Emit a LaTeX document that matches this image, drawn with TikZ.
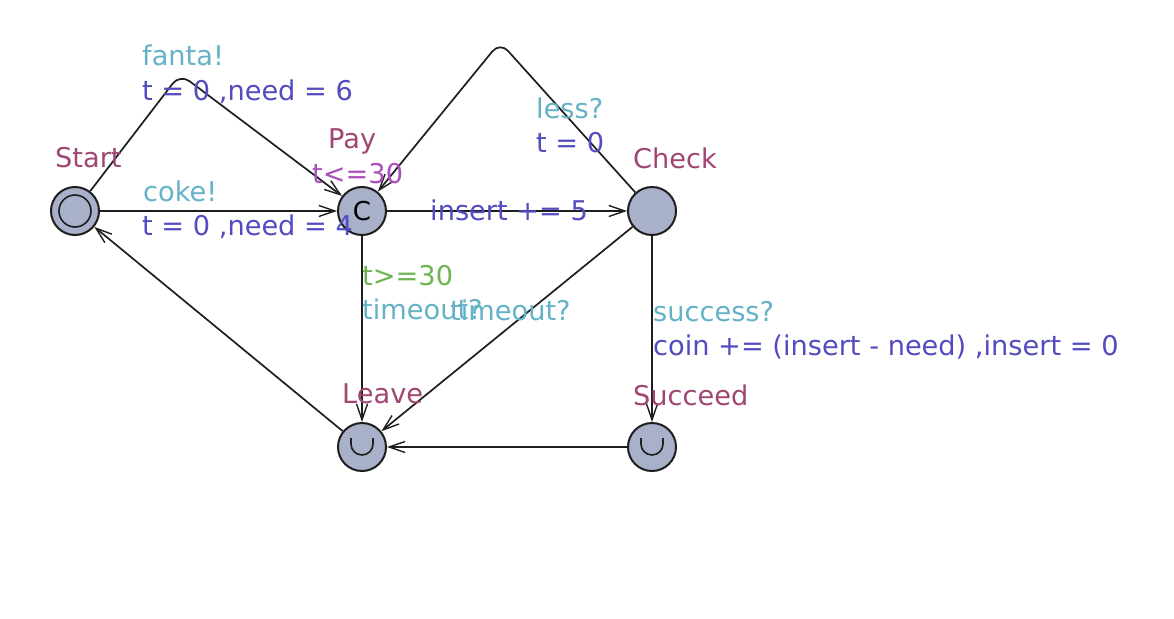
\documentclass[tikz,border=0pt]{standalone}
\usepackage{fontspec}
\setmainfont{DejaVu Sans}
\usetikzlibrary{arrows.meta}
\definecolor{locfill}{RGB}{168,176,202}
\definecolor{namecol}{RGB}{160,70,115}
\definecolor{invcol}{RGB}{170,80,190}
\definecolor{synccol}{RGB}{100,178,198}
\definecolor{updcol}{RGB}{82,76,192}
\definecolor{guardcol}{RGB}{110,180,80}
\definecolor{linecol}{RGB}{30,30,30}
\begin{document}
\begin{tikzpicture}[x=1pt,y=-1pt,
  loc/.style={circle,draw=linecol,fill=locfill,line width=2pt,minimum size=48pt,inner sep=0pt,font=\fontsize{26}{30}\selectfont},
  edge/.style={line width=1.7pt,draw=linecol,-{Straight Barb[length=16pt,width=11pt,line width=1.4pt]}},
  lbl/.style={anchor=base west,inner sep=0pt,font=\fontsize{27.2}{31}\selectfont},
  locname/.style={lbl,text=namecol},
  inv/.style={lbl,text=invcol},
  sync/.style={lbl,text=synccol},
  upd/.style={lbl,text=updcol},
  guard/.style={lbl,text=guardcol},
  umark/.style={line width=1.6pt,draw=linecol}
]
\useasboundingbox (0,0) rectangle (1174,618);
\fill[white] (0,0) rectangle (1174,618);

% locations
\node[loc] (Start) at (75,211) {};
\draw[line width=1.6pt,draw=linecol] (Start) circle[radius=16];
\node[loc] (Pay) at (362,211) {C};
\node[loc] (Check) at (652,211) {};
\node[loc] (Leave) at (362,447) {};
\node[loc] (Succeed) at (652,447) {};
\draw[umark] (Leave.center) ++(-11,-9) -- ++(0,6) arc[start angle=180,end angle=0,radius=11] -- ++(0,-6);
\draw[umark] (Succeed.center) ++(-11,-9) -- ++(0,6) arc[start angle=180,end angle=0,radius=11] -- ++(0,-6);

% nails
\coordinate (n1) at (180,74);
\coordinate (n2) at (500,42);

% edges
\draw[edge,rounded corners=12pt] (Start) -- (n1) -- (Pay);
\draw[edge] (Start) -- (Pay);
\draw[edge] (Pay) -- (Check);
\draw[edge,rounded corners=12pt] (Check) -- (n2) -- (Pay);
\draw[edge] (Pay) -- (Leave);
\draw[edge] (Check) -- (Leave);
\draw[edge] (Check) -- (Succeed);
\draw[edge] (Succeed) -- (Leave);
\draw[edge] (Leave) -- (Start);

% location labels
\node[locname] (lStart) at (55,167) {Start};
\node[locname] (lPay) at (328,148) {Pay};
\node[inv] (iPay) at (312,183) {t<=30};
\node[locname] (lCheck) at (633,168) {Check};
\node[locname] (lLeave) at (342,403) {Leave};
\node[locname] (lSucceed) at (633,405) {Succeed};

% edge labels
\node[sync] (s1) at (142,66) {fanta!};
\node[upd] (u1) at (142,100) {t = 0 ,need = 6};
\node[sync] (s2) at (143,201) {coke!};
\node[upd] (u2) at (142,235) {t = 0 ,need = 4};
\node[sync] (s3) at (536,118) {less?};
\node[upd] (u3) at (536,152) {t = 0};
\node[upd] (u4) at (430,220) {insert += 5};
\node[guard] (g5) at (362,285) {t>=30};
\node[sync] (s5) at (362,319) {timeout?};
\node[sync] (s6) at (450,320) {timeout?};
\node[sync] (s7) at (653,321) {success?};
\node[upd] (u7) at (653,355) {coin += (insert - need) ,insert = 0};
\end{tikzpicture}
\end{document}
